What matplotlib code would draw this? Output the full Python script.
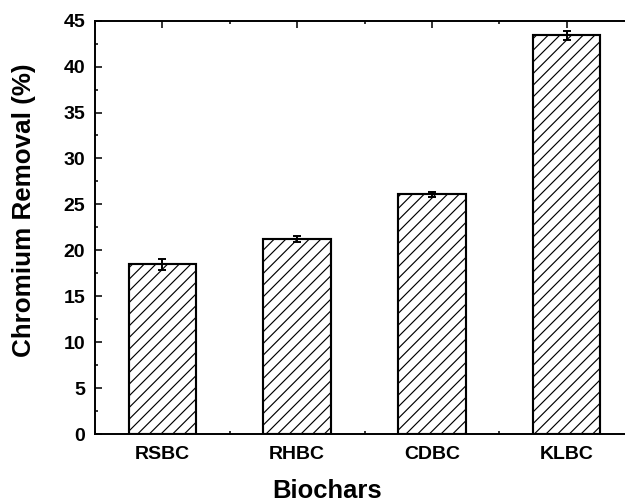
import numpy as np
import matplotlib
matplotlib.use("Agg")
import matplotlib.pyplot as plt
from matplotlib.ticker import MultipleLocator

# data
biochars = ["RSBC", "RHBC", "CDBC", "KLBC"]
removal = [18.5, 21.2, 26.1, 43.4]
removal_err = [0.6, 0.35, 0.3, 0.5]

DPI = 140
plt.rcParams["font.family"] = ["Liberation Sans", "DejaVu Sans"]
plt.rcParams["font.weight"] = "bold"
plt.rcParams["hatch.linewidth"] = 0.6
plt.rcParams["hatch.color"] = "black"

fig = plt.figure(figsize=(625 / DPI, 498 / DPI), dpi=DPI)
ax = fig.add_axes([0.152, 0.1285, 0.8624, 0.830])

x = np.arange(1, len(biochars) + 1)
ax.bar(x, removal, width=0.5, color="white", edgecolor="black",
       linewidth=1.1, hatch="////", zorder=2)
ax.errorbar(x, removal, yerr=removal_err, fmt="none", ecolor="black",
            elinewidth=1.0, capsize=2.0, capthick=1.0, zorder=3)

ax.set_xlim(0.5, 4.5)
ax.set_ylim(0, 45)
ax.set_xticks(x, biochars)
ax.xaxis.set_minor_locator(MultipleLocator(0.5))
ax.yaxis.set_major_locator(MultipleLocator(5))
ax.yaxis.set_minor_locator(MultipleLocator(2.5))

ax.tick_params(which="both", direction="in", top=True, right=True, width=0.8)
ax.tick_params(which="major", length=3.5)
ax.tick_params(which="minor", length=1.6)
ax.tick_params(axis="y", which="major", pad=5, labelsize=10)
ax.tick_params(axis="x", which="major", pad=6, labelsize=10)
for lab in ax.get_xticklabels() + ax.get_yticklabels():
    lab.set_fontweight("bold")
for sp in ax.spines.values():
    sp.set_linewidth(1.0)

ax.set_xlabel("Biochars", fontsize=13.2, fontweight="bold")
ax.set_ylabel("Chromium Removal (%)", fontsize=13.4, fontweight="bold")
ax.xaxis.set_label_coords(0.430, -0.108)
ax.yaxis.set_label_coords(-0.109, 0.542)

fig.savefig("out.png", dpi=DPI)
